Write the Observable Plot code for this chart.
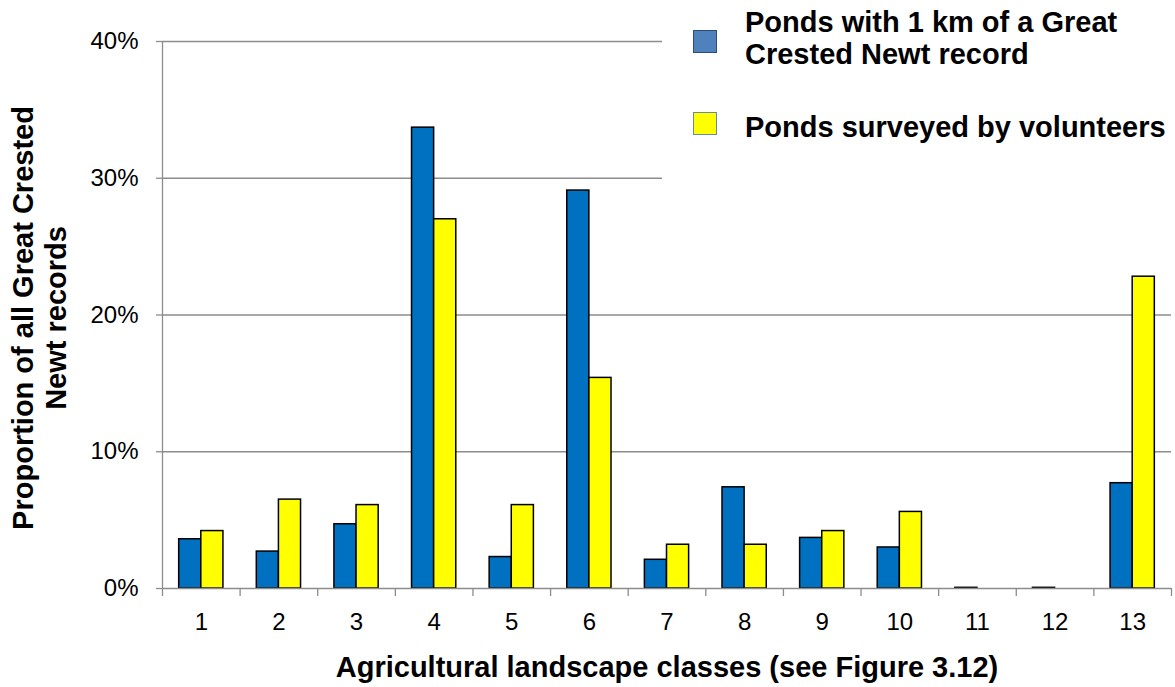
<!DOCTYPE html>
<html><head><meta charset="utf-8">
<script src="https://cdn.jsdelivr.net/npm/d3@7"></script>
<script src="https://cdn.jsdelivr.net/npm/@observablehq/plot@0.6"></script>
<style>
body{margin:0;background:#fff;font-family:"Liberation Sans",Arial,sans-serif}
#wrap{position:relative;width:1175px;height:687px}
#legend{position:absolute;left:662px;top:0;width:513px;height:184px;background:#fff}
.sw{position:absolute;left:31px;width:24px;height:23px;box-sizing:border-box}
.lt{position:absolute;left:83px;font-size:29px;font-weight:bold;line-height:32px;white-space:pre;color:#000}
</style></head><body><div id="wrap"></div>
<script>
const categories = [1,2,3,4,5,6,7,8,9,10,11,12,13];
const pondsNearRecord = [3.6,2.7,4.7,33.7,2.3,29.1,2.1,7.4,3.7,3.0,0.05,0.05,7.7];
const pondsSurveyed = [4.2,6.5,6.1,27.0,6.1,15.4,3.2,3.2,4.2,5.6,0,0,22.8];
const seriesNames = ["Ponds with 1 km of a Great\nCrested Newt record","Ponds surveyed by volunteers"];
const seriesColors = ["#0070C0","#FFFF00"];
const legendSwatch = ["#4F81BD","#FFFF00"];
const legendBorder = ["#2C4D75","#6A86A8"];
const yTicks = [0,10,20,30,40];
const xTitle = "Agricultural landscape classes (see Figure 3.12)";
const yTitle = "Proportion of all Great Crested\nNewt records";

const rows = categories.flatMap((c,i) => [
  {cat:c, s:0, name:seriesNames[0], v:pondsNearRecord[i]},
  {cat:c, s:1, name:seriesNames[1], v:pondsSurveyed[i]}
]);
const barW = 0.285;
const boundaries = categories.map(c => c - 0.5).concat([categories[categories.length-1] + 0.5]);
const axisGray = "#8c8c8c";

const chart = Plot.plot({
  width: 1175, height: 687,
  marginLeft: 162, marginRight: 4, marginTop: 41, marginBottom: 99,
  x: {domain: [0.5, 13.5], label: null},
  y: {domain: [0, 40], label: null},
  color: {domain: seriesNames, range: seriesColors},
  style: {fontFamily: "'Liberation Sans', Arial, sans-serif", background: "white", overflow: "visible", color: "black"},
  marks: [
    Plot.gridY(yTicks.filter(t => t > 0), {stroke: axisGray, strokeOpacity: 1, strokeWidth: 1.3}),
    Plot.rectY(rows.filter(d => d.v > 0), {
      x1: d => d.cat + (d.s - 1) * barW,
      x2: d => d.cat + d.s * barW,
      y1: 0, y2: "v", fill: "name", stroke: "black", strokeWidth: 1.5
    }),
    Plot.ruleY([0], {stroke: axisGray, strokeWidth: 1.3}),
    Plot.ruleX([0.5], {stroke: axisGray, strokeWidth: 1.3}),
    Plot.axisY(yTicks, {tickSize: 6, tickPadding: 18, fontSize: 24, tickFormat: d => d + "%", stroke: axisGray, strokeWidth: 1.3, label: null}),
    Plot.axisX(categories, {tickSize: 0, tickPadding: 24, fontSize: 24, tickFormat: d => String(d), label: null}),
    Plot.axisX(boundaries, {tickSize: 8, tickFormat: () => "", stroke: axisGray, strokeWidth: 1.3, label: null}),
    Plot.text([xTitle], {text: d => d, frameAnchor: "bottom", dy: 88, fontSize: 29, fontWeight: "bold"}),
    Plot.text([yTitle], {text: d => d, frameAnchor: "left", rotate: -90, dx: -124, dy: 3, fontSize: 29, fontWeight: "bold", lineHeight: 1.14, textAnchor: "middle", lineAnchor: "middle"})
  ]
});
const wrap = document.getElementById("wrap");
wrap.appendChild(chart);

const legend = document.createElement("div");
legend.id = "legend";
const swTops = [30, 112];
const txtTops = [6, 111];
seriesNames.forEach((n, i) => {
  const sw = document.createElement("div");
  sw.className = "sw";
  sw.style.top = swTops[i] + "px";
  sw.style.background = legendSwatch[i];
  sw.style.border = "1.5px solid " + legendBorder[i];
  legend.appendChild(sw);
  const t = document.createElement("div");
  t.className = "lt";
  t.style.top = txtTops[i] + "px";
  t.textContent = n;
  legend.appendChild(t);
});
wrap.appendChild(legend);
</script></body></html>
